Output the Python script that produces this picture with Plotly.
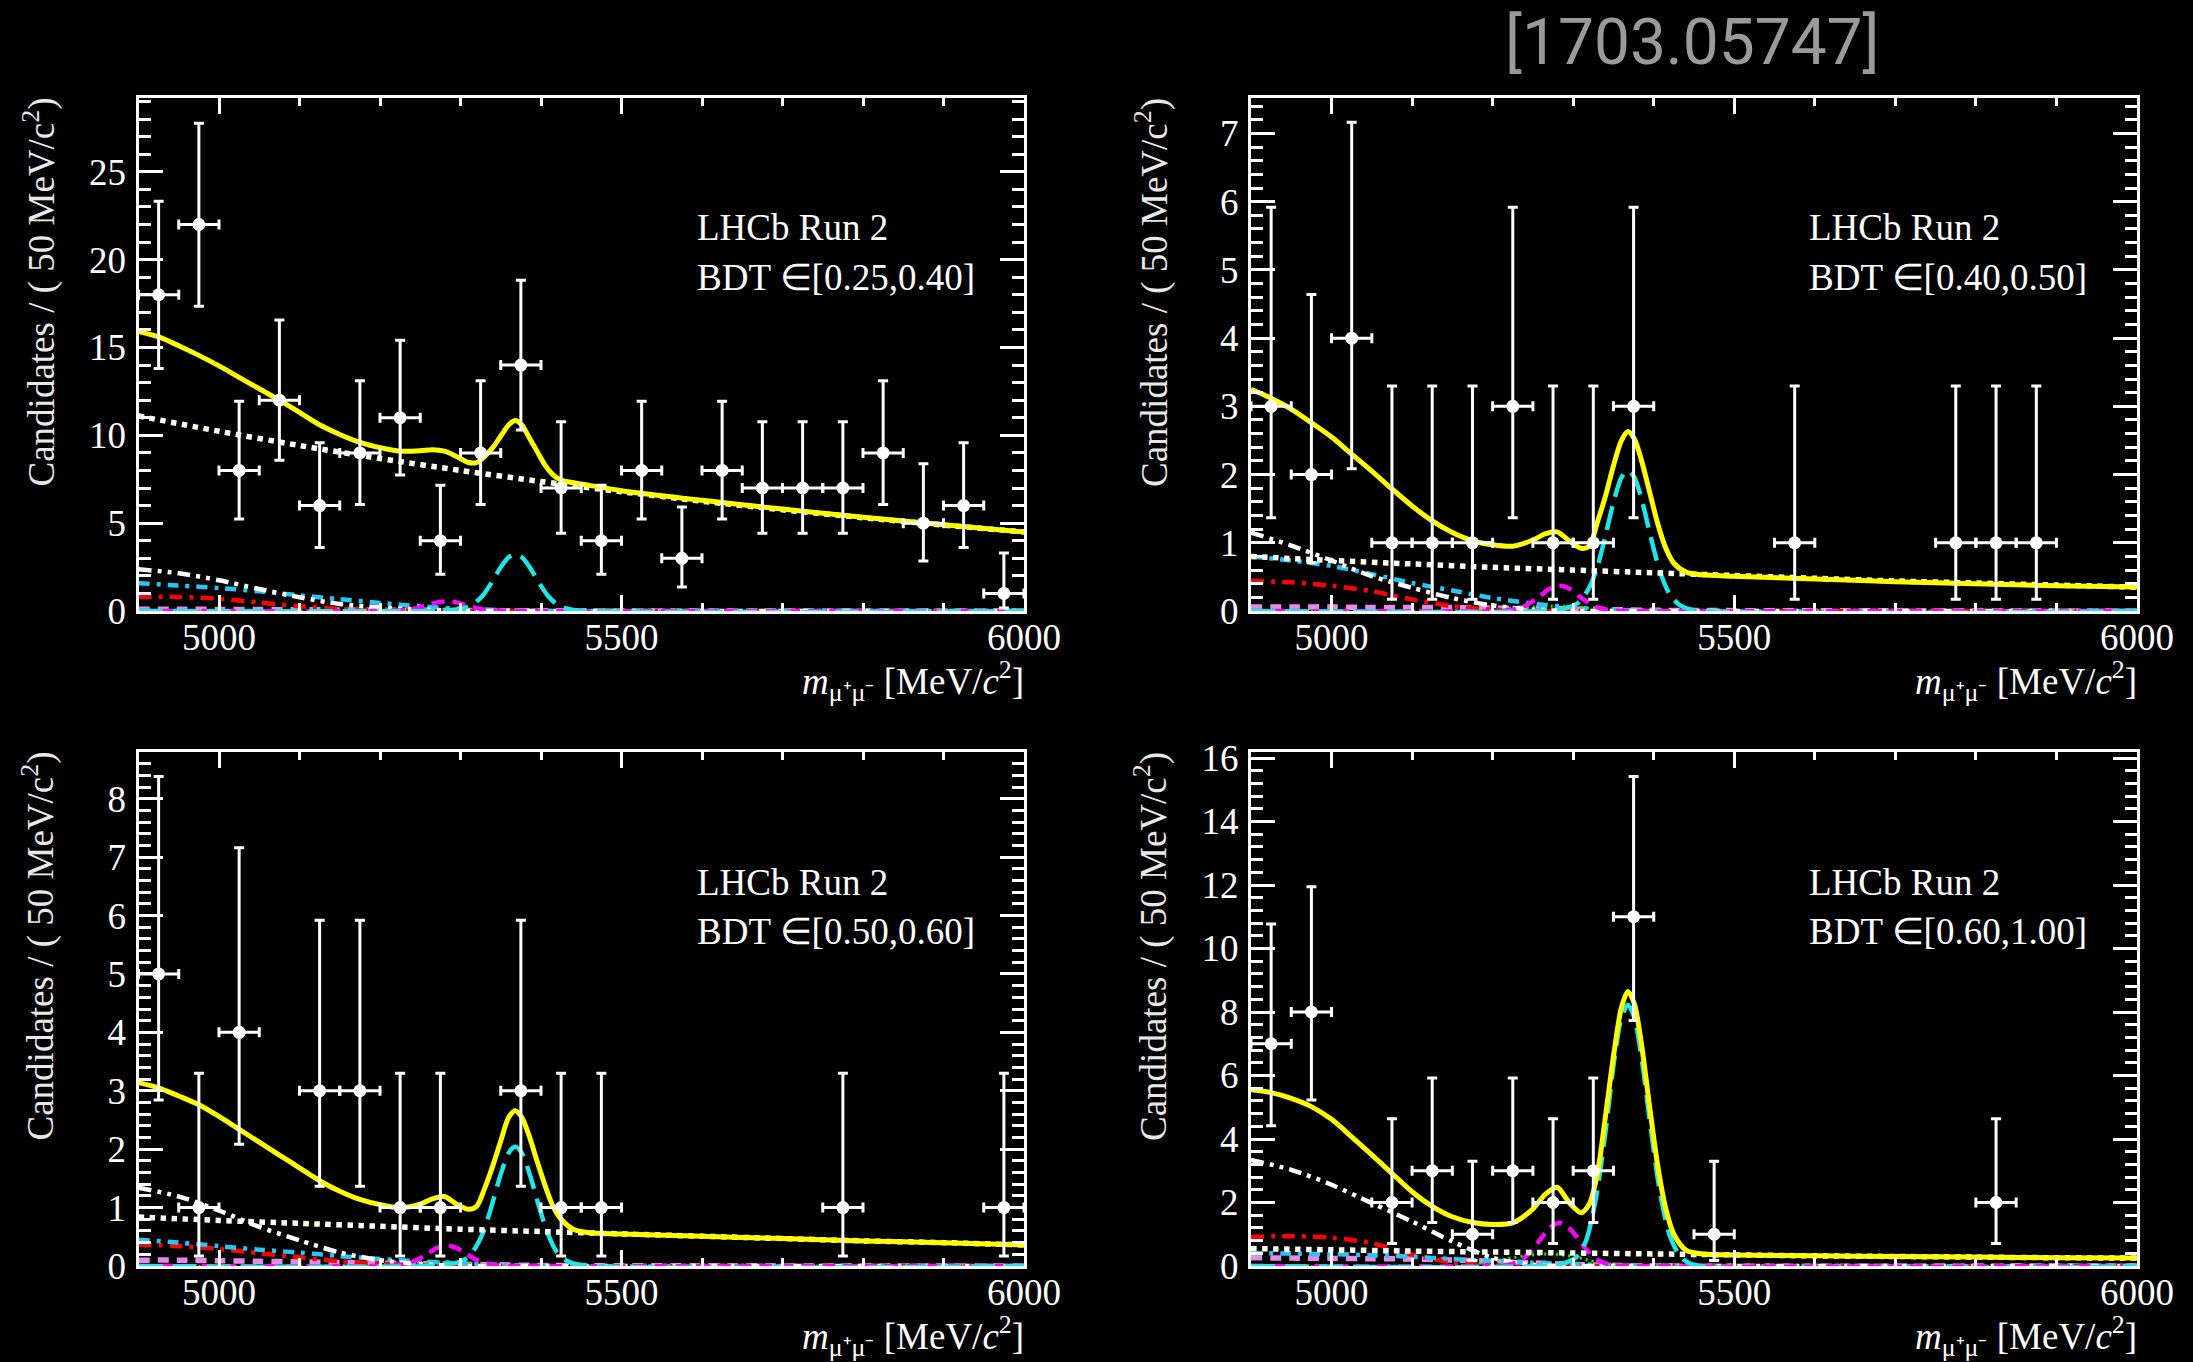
import math
import plotly.graph_objects as go

# ---------------------------------------------------------------------------
# Data: m(mu+mu-) bin centres [MeV/c^2] and candidate counts per BDT bin
# ---------------------------------------------------------------------------
BIN_HALF_WIDTH = 25.0

BDT_LABELS = ["BDT \u2208[0.25,0.40]", "BDT \u2208[0.40,0.50]",
              "BDT \u2208[0.50,0.60]", "BDT \u2208[0.60,1.00]"]

MASS_1 = [4925, 4975, 5025, 5075, 5125, 5175, 5225, 5275, 5325, 5375, 5425,
          5475, 5525, 5575, 5625, 5675, 5725, 5775, 5825, 5875, 5925, 5975]
COUNTS_1 = [18, 22, 8, 12, 6, 9, 11, 4, 9, 14, 7, 4, 8, 3, 8, 7, 7, 7, 9, 5, 6, 1]

MASS_2 = [4925, 4975, 5025, 5075, 5125, 5175, 5225, 5275, 5325, 5375, 5575,
          5775, 5825, 5875]
COUNTS_2 = [3, 2, 4, 1, 1, 1, 3, 1, 1, 3, 1, 1, 1, 1]

MASS_3 = [4925, 4975, 5025, 5125, 5175, 5225, 5275, 5375, 5425, 5475, 5775, 5975]
COUNTS_3 = [5, 1, 4, 3, 3, 1, 1, 3, 1, 1, 1, 1]

MASS_4 = [4925, 4975, 5075, 5125, 5175, 5225, 5275, 5325, 5375, 5475, 5825]
COUNTS_4 = [7, 8, 2, 3, 1, 3, 2, 3, 11, 1, 2]

# y-axis upper limits and tick spacing per panel
Y_MAX = [29.2, 7.52, 8.80, 16.19]
Y_DTICK = [5, 1, 1, 2]
Y_MINOR = [1, 0.2, 0.2, 0.4]

# ---------------------------------------------------------------------------
# Fit model curves sampled along the mass axis
# ---------------------------------------------------------------------------
GRID_TOTAL = [4900, 4925, 4950, 4975, 5000, 5025, 5050, 5075, 5100, 5125, 5150,
              5175, 5200, 5225, 5250, 5265, 5280, 5295, 5310, 5320, 5330, 5340,
              5350, 5360, 5368, 5376, 5385, 5395, 5405, 5415, 5425, 5440, 5460,
              5500, 5600, 5700, 5800, 5900, 6000]
TOTAL_1 = [15.9, 15.6, 15.1, 14.55, 13.95, 13.3, 12.65, 12.0, 11.3, 10.6, 10.05,
           9.6, 9.3, 9.1, 9.12, 9.18, 9.1, 8.8, 8.45, 8.45, 8.8, 9.3,
           9.95, 10.6, 10.85, 10.6, 9.9, 9.1, 8.3, 7.75, 7.45, 7.3, 7.15,
           6.85, 6.3, 5.8, 5.33, 4.91, 4.5]
TOTAL_2 = [3.25, 3.12, 2.96, 2.76, 2.55, 2.30, 2.05, 1.79, 1.54, 1.32, 1.15,
           1.03, 0.97, 0.95, 1.04, 1.13, 1.16, 1.03, 0.92, 0.95, 1.30, 1.68,
           2.13, 2.50, 2.63, 2.52, 2.20, 1.74, 1.28, 0.92, 0.70, 0.57, 0.53,
           0.51, 0.47, 0.43, 0.40, 0.37, 0.35]
TOTAL_3 = [3.14, 3.05, 2.91, 2.76, 2.56, 2.34, 2.12, 1.90, 1.68, 1.46, 1.28,
           1.14, 1.05, 1.0, 1.06, 1.15, 1.19, 1.06, 0.97, 1.02, 1.33, 1.71,
           2.14, 2.55, 2.66, 2.55, 2.24, 1.80, 1.38, 1.02, 0.80, 0.63, 0.57,
           0.55, 0.51, 0.47, 0.43, 0.40, 0.36]
TOTAL_4 = [5.55, 5.46, 5.28, 5.02, 4.62, 4.07, 3.5, 2.92, 2.34, 1.88, 1.55,
           1.37, 1.31, 1.36, 1.8, 2.25, 2.48, 2.0, 1.68, 1.95, 2.9, 4.7,
           6.6, 8.15, 8.65, 8.25, 6.95, 5.0, 3.15, 1.8, 1.0, 0.5, 0.38,
           0.35, 0.32, 0.30, 0.28, 0.26, 0.25]

# combinatorial background
GRID_COMB = [4900, 5000, 5100, 5200, 5300, 5400, 5500, 5600, 5700, 5800, 5900, 6000]
COMB_1 = [11.1, 10.23, 9.42, 8.68, 8.0, 7.37, 6.79, 6.25, 5.76, 5.31, 4.89, 4.5]
COMB_2 = [0.80, 0.74, 0.69, 0.64, 0.60, 0.56, 0.52, 0.48, 0.44, 0.41, 0.38, 0.35]
COMB_3 = [0.84, 0.78, 0.73, 0.68, 0.63, 0.59, 0.55, 0.51, 0.47, 0.43, 0.40, 0.36]
COMB_4 = [0.55, 0.51, 0.47, 0.44, 0.41, 0.38, 0.35, 0.32, 0.30, 0.28, 0.26, 0.25]

# Bs -> mu mu signal
GRID_BS = [4900, 5260, 5290, 5305, 5316, 5328, 5340, 5350, 5360, 5368, 5376,
           5386, 5396, 5408, 5420, 5432, 5447, 6000]
BS_1 = [0, 0, 0.06, 0.18, 0.40, 0.90, 1.72, 2.49, 3.07, 3.23, 3.07, 2.49, 1.72, 0.90, 0.37, 0.13, 0.02, 0]
BS_2 = [0, 0, 0.04, 0.11, 0.26, 0.57, 1.10, 1.59, 1.96, 2.06, 1.96, 1.59, 1.10, 0.57, 0.24, 0.09, 0.02, 0]
BS_3 = [0, 0, 0.04, 0.11, 0.26, 0.57, 1.09, 1.57, 1.94, 2.04, 1.94, 1.57, 1.09, 0.57, 0.23, 0.09, 0.02, 0]
BS_4 = [0, 0, 0.10, 0.30, 0.80, 2.10, 4.20, 6.30, 7.82, 8.23, 7.82, 6.35, 4.39, 2.29, 0.95, 0.34, 0.06, 0]

# B0 -> mu mu signal
GRID_BD = [4900, 5200, 5220, 5235, 5247, 5259, 5271, 5283, 5295, 5307, 5319,
           5331, 5346, 5380, 6000]
BD_1 = [0, 0, 0.02, 0.07, 0.18, 0.33, 0.49, 0.55, 0.49, 0.33, 0.18, 0.07, 0.02, 0, 0]
BD_2 = [0, 0, 0.01, 0.05, 0.12, 0.22, 0.33, 0.37, 0.33, 0.22, 0.12, 0.05, 0.01, 0, 0]
BD_3 = [0, 0, 0.01, 0.05, 0.11, 0.21, 0.31, 0.35, 0.31, 0.21, 0.11, 0.05, 0.01, 0, 0]
BD_4 = [0, 0, 0.04, 0.18, 0.44, 0.83, 1.20, 1.36, 1.20, 0.83, 0.44, 0.18, 0.04, 0, 0]

# misidentified B -> h h'
GRID_MISID = [4900, 5150, 5200, 5240, 5270, 5300, 5330, 5360, 5400, 6000]
MISID_1 = [0, 0, 0.03, 0.08, 0.10, 0.08, 0.04, 0.01, 0, 0]
MISID_2 = [0, 0, 0.02, 0.05, 0.07, 0.06, 0.03, 0.01, 0, 0]
MISID_3 = [0, 0, 0.02, 0.06, 0.07, 0.06, 0.03, 0.01, 0, 0]
MISID_4 = [0, 0, 0.15, 0.32, 0.38, 0.30, 0.12, 0.03, 0, 0]

# partially reconstructed / semileptonic backgrounds
GRID_LOW = [4900, 4950, 5000, 5050, 5100, 5150, 5200, 5250, 5300, 5350, 5400, 6000]
PIMUNU_1 = [2.37, 2.15, 1.75, 1.25, 0.78, 0.40, 0.20, 0.08, 0.02, 0, 0, 0]
PIMUNU_2 = [1.15, 0.96, 0.74, 0.51, 0.34, 0.19, 0.08, 0.02, 0, 0, 0, 0]
PIMUNU_3 = [1.34, 1.19, 0.95, 0.67, 0.44, 0.23, 0.10, 0.03, 0, 0, 0, 0]
PIMUNU_4 = [3.34, 3.03, 2.56, 1.98, 1.40, 0.77, 0.26, 0.04, 0, 0, 0, 0]

PIMUMU_1 = [1.58, 1.45, 1.31, 1.12, 0.89, 0.67, 0.46, 0.27, 0.13, 0.05, 0.01, 0]
PIMUMU_2 = [0.80, 0.74, 0.66, 0.54, 0.41, 0.30, 0.19, 0.11, 0.05, 0.02, 0, 0]
PIMUMU_3 = [0.45, 0.40, 0.34, 0.28, 0.23, 0.17, 0.12, 0.08, 0.05, 0.02, 0, 0]
PIMUMU_4 = [0.41, 0.39, 0.37, 0.34, 0.29, 0.22, 0.16, 0.10, 0.06, 0.02, 0, 0]

KMUNU_1 = [0.81, 0.80, 0.70, 0.49, 0.27, 0.12, 0.04, 0.01, 0, 0, 0, 0]
KMUNU_2 = [0.44, 0.42, 0.37, 0.29, 0.17, 0.07, 0.02, 0, 0, 0, 0, 0]
KMUNU_3 = [0.37, 0.34, 0.29, 0.22, 0.15, 0.08, 0.04, 0.01, 0, 0, 0, 0]
KMUNU_4 = [0.92, 0.94, 0.89, 0.72, 0.36, 0.11, 0.02, 0, 0, 0, 0, 0]

PMUNU_1 = [0.10, 0.10, 0.09, 0.08, 0.07, 0.06, 0.05, 0.04, 0.03, 0.02, 0.01, 0]
PMUNU_2 = [0.06, 0.06, 0.06, 0.05, 0.05, 0.05, 0.04, 0.04, 0.03, 0.02, 0.01, 0]
PMUNU_3 = [0.10, 0.10, 0.09, 0.08, 0.07, 0.06, 0.05, 0.04, 0.03, 0.02, 0.01, 0]
PMUNU_4 = [0.26, 0.25, 0.24, 0.23, 0.22, 0.19, 0.15, 0.10, 0.05, 0.02, 0, 0]


# ---------------------------------------------------------------------------
# Poisson (Garwood, 68.27%) intervals for the data points
# ---------------------------------------------------------------------------
def poisson_cdf(k, mu):
    term = math.exp(-mu)
    total = term
    for i in range(1, k + 1):
        term *= mu / i
        total += term
    return total


def solve_mu(k, target):
    lo, hi = 0.0, k + 60.0
    for _ in range(200):
        mid = 0.5 * (lo + hi)
        if poisson_cdf(k, mid) > target:
            lo = mid
        else:
            hi = mid
    return 0.5 * (lo + hi)


def garwood(n):
    alpha = 0.158655
    upper = solve_mu(n, alpha)
    lower = 0.0 if n == 0 else solve_mu(n - 1, 1.0 - alpha)
    return lower, upper


# ---------------------------------------------------------------------------
# Layout geometry (pixels of the 2193 x 1362 page)
# ---------------------------------------------------------------------------
W, H = 2193, 1362
COLS = [(138.5, 1024.0), (1251.0, 2137.0)]
ROWS = [(98.0, 611.0), (752.0, 1266.0)]


def px(x):
    return x / W


def py(y):
    return 1.0 - y / H


SERIF = "Liberation Serif"

panels = [
    dict(mass=MASS_1, counts=COUNTS_1, total=TOTAL_1, comb=COMB_1, bs=BS_1, bd=BD_1,
         misid=MISID_1, pimunu=PIMUNU_1, pimumu=PIMUMU_1, kmunu=KMUNU_1, pmunu=PMUNU_1),
    dict(mass=MASS_2, counts=COUNTS_2, total=TOTAL_2, comb=COMB_2, bs=BS_2, bd=BD_2,
         misid=MISID_2, pimunu=PIMUNU_2, pimumu=PIMUMU_2, kmunu=KMUNU_2, pmunu=PMUNU_2),
    dict(mass=MASS_3, counts=COUNTS_3, total=TOTAL_3, comb=COMB_3, bs=BS_3, bd=BD_3,
         misid=MISID_3, pimunu=PIMUNU_3, pimumu=PIMUMU_3, kmunu=KMUNU_3, pmunu=PMUNU_3),
    dict(mass=MASS_4, counts=COUNTS_4, total=TOTAL_4, comb=COMB_4, bs=BS_4, bd=BD_4,
         misid=MISID_4, pimunu=PIMUNU_4, pimumu=PIMUMU_4, kmunu=KMUNU_4, pmunu=PMUNU_4),
]

fig = go.Figure()
annotations = []
layout_axes = {}

for i, p in enumerate(panels):
    r, c = divmod(i, 2)
    x0, x1 = COLS[c]
    y0, y1 = ROWS[r]
    n = i + 1
    xa = "x" if n == 1 else f"x{n}"
    ya = "y" if n == 1 else f"y{n}"

    def curve(xs, ys, color, width, dash):
        fig.add_trace(go.Scatter(
            x=xs, y=ys, mode="lines", xaxis=xa, yaxis=ya,
            line=dict(color=color, width=width, dash=dash, shape="spline", smoothing=0.8),
            hoverinfo="skip", showlegend=False))

    # background components
    curve(GRID_LOW, p["pmunu"], "#e58be5", 5.5, "11px,8px")
    curve(GRID_MISID, p["misid"], "#00ff00", 3, "2px,4px")
    curve(GRID_LOW, p["kmunu"], "#ff0000", 4.5, "13px,7px,4px,7px")
    curve(GRID_LOW, p["pimumu"], "#29c5f6", 4.5, "11px,7px,4px,7px")
    curve(GRID_LOW, p["pimunu"], "#ffffff", 4.5, "13px,6px,4px,6px,4px,6px")
    curve(GRID_BD, p["bd"], "#ff00ff", 4.5, "13px,8px")
    curve(GRID_BS, p["bs"], "#1ee6e6", 4.5, "24px,10px")
    curve(GRID_COMB, p["comb"], "#fffff0", 5.5, "5.5px,5.5px")
    curve(GRID_TOTAL, p["total"], "#ffff00", 5, "solid")

    # data with asymmetric Poisson errors
    lows, ups = [], []
    for k in p["counts"]:
        lo, hi = garwood(k)
        lows.append(k - lo)
        ups.append(hi - k)
    fig.add_trace(go.Scatter(
        x=p["mass"], y=p["counts"], mode="markers", xaxis=xa, yaxis=ya,
        marker=dict(color="white", size=13, symbol="circle"),
        error_y=dict(type="data", symmetric=False, array=ups, arrayminus=lows,
                     color="white", thickness=3, width=5),
        error_x=dict(type="constant", value=BIN_HALF_WIDTH, color="white",
                     thickness=3, width=5),
        hoverinfo="skip", showlegend=False))

    key_x = "xaxis" if n == 1 else f"xaxis{n}"
    key_y = "yaxis" if n == 1 else f"yaxis{n}"
    layout_axes[key_x] = dict(
        domain=[px(x0), px(x1)], anchor=ya, range=[4900, 6000], automargin=False,
        tick0=5000, dtick=500, ticks="inside", ticklen=16, tickwidth=2.5,
        tickcolor="white", showline=True, linecolor="white", linewidth=3,
        mirror="allticks", showgrid=False, zeroline=False,
        tickfont=dict(family=SERIF, size=37, color="white"),
        ticklabelstandoff=-8,
        minor=dict(dtick=100, tick0=4900, ticks="inside", ticklen=8, tickwidth=2.5,
                   tickcolor="white", showgrid=False),
    )
    layout_axes[key_y] = dict(
        domain=[py(y1), py(y0)], anchor=xa, range=[0, Y_MAX[i]], automargin=False,
        tick0=0, dtick=Y_DTICK[i], ticks="inside", ticklen=24, tickwidth=2.5,
        tickcolor="white", showline=True, linecolor="white", linewidth=3,
        mirror="allticks", showgrid=False, zeroline=False,
        tickfont=dict(family=SERIF, size=37, color="white"),
        ticklabelstandoff=2,
        minor=dict(dtick=Y_MINOR[i], tick0=0, ticks="inside", ticklen=12, tickwidth=2.5,
                   tickcolor="white", showgrid=False),
    )

    # panel texts
    annotations.append(dict(
        x=px(x0 + 556), y=py(y0 + 130), xref="paper", yref="paper",
        xanchor="left", yanchor="middle", showarrow=False, text="LHCb Run 2",
        font=dict(family=SERIF, size=37, color="white")))
    annotations.append(dict(
        x=px(x0 + 556), y=py(y0 + 179), xref="paper", yref="paper",
        xanchor="left", yanchor="middle", showarrow=False, text=BDT_LABELS[i],
        font=dict(family=SERIF, size=37, color="white")))
    # axis titles
    annotations.append(dict(
        x=px(x0 - 99.5), y=py(y0 - 2), xref="paper", yref="paper",
        xanchor="center", yanchor="top", textangle=-90, showarrow=False,
        text="Candidates / ( 50 MeV/c<sup>2</sup>)",
        font=dict(family=SERIF, size=37, color="#e8e8e8")))
    annotations.append(dict(
        x=px(x1 + 2), y=py(y1 + 70), xref="paper", yref="paper",
        xanchor="right", yanchor="middle", showarrow=False,
        text="<i>m</i><sub>\u03bc\u207a\u03bc\u207b</sub> [MeV/<i>c</i><sup>2</sup>]",
        font=dict(family=SERIF, size=37, color="white")))

annotations.append(dict(
    x=px(1693), y=py(42), xref="paper", yref="paper", xanchor="center", yanchor="middle",
    showarrow=False, text="[1703.05747]",
    font=dict(family="Liberation Sans Narrow, Roboto, sans-serif", size=64, color="#9a9a9a")))

fig.update_layout(
    width=W, height=H, margin=dict(l=0, r=0, t=0, b=0, autoexpand=False),
    paper_bgcolor="black", plot_bgcolor="black",
    font=dict(family=SERIF, color="white"),
    showlegend=False, annotations=annotations, **layout_axes)

fig.write_html("out.html")
